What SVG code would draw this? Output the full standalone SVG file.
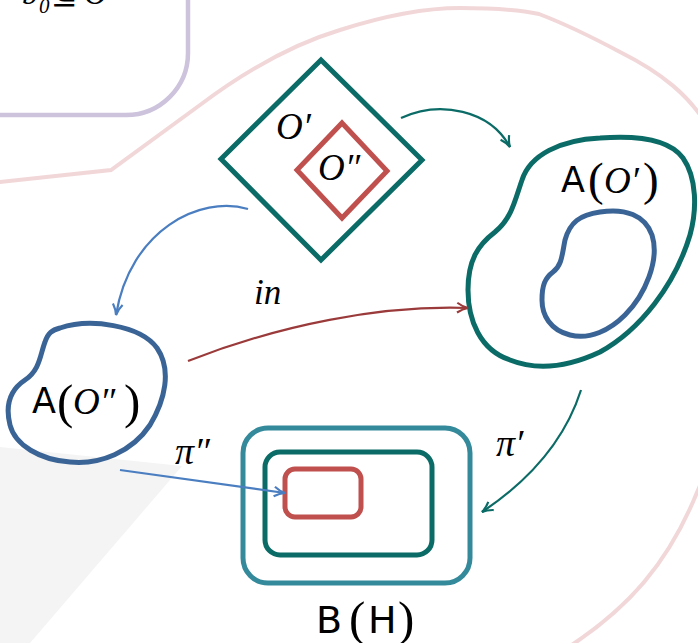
<svg xmlns="http://www.w3.org/2000/svg" width="698" height="643" viewBox="0 0 698 643">
<style>
.sans{font-family:"DejaVu Sans","Liberation Sans",sans-serif;fill:#000}
.it{font-family:"Liberation Serif","DejaVu Serif",serif;font-style:italic;fill:#000}
.par{font-family:"Liberation Serif","DejaVu Serif",serif;fill:#000}
.conn{fill:none;stroke-width:2.2}
</style>
<defs>
<marker id="hT" viewBox="0 0 12 12" refX="11" refY="6" markerWidth="13" markerHeight="13" markerUnits="userSpaceOnUse" orient="auto"><path d="M1,1.5 Q6,5 11,6 Q6,7 1,10.5" fill="none" stroke="#0B6B66" stroke-width="2"/></marker>
<marker id="hB" viewBox="0 0 12 12" refX="11" refY="6" markerWidth="13" markerHeight="13" markerUnits="userSpaceOnUse" orient="auto"><path d="M1,1.5 Q6,5 11,6 Q6,7 1,10.5" fill="none" stroke="#4A7EC0" stroke-width="2"/></marker>
<marker id="hR" viewBox="0 0 12 12" refX="11" refY="6" markerWidth="13" markerHeight="13" markerUnits="userSpaceOnUse" orient="auto"><path d="M1,1.5 Q6,5 11,6 Q6,7 1,10.5" fill="none" stroke="#9B3A3A" stroke-width="2"/></marker>
</defs>
<rect width="698" height="643" fill="#fff"/>
<g id="background">
<polygon points="0,447 182,466 30,643 0,643" fill="#F4F4F4"/>
<path d="M -10,183 L 111,170 L 200,105 C 240,75 290,45 340,30 C 390,14 430,8 460,8 C 500,8 525,11 539,14 C 560,22 590,36 620,52 C 660,72 690,95 710,130 C 740,200 740,400 698,490 C 670,560 630,610 556,655 L -20,700 Z" fill="none" stroke="#F2D7D9" stroke-width="4"/>
<rect x="-100" y="-100" width="288" height="215" rx="62" fill="none" stroke="#CDC3DD" stroke-width="4.5"/>
<text class="it" x="22" y="4" font-size="32">b</text>
<text class="it" x="39" y="13" font-size="21">0</text>
<text class="par" x="51" y="4" font-size="32">⊆</text>
<text class="it" x="84" y="4" font-size="32">O</text>
</g>
<g id="node-O">
<polygon points="321,60 422,160 321,260 221,159" fill="none" stroke="#0B6B66" stroke-width="5"/>
<polygon points="342,123 387,171 342,218 297,170" fill="none" stroke="#C0504D" stroke-width="5"/>
<text class="it" x="276" y="139" font-size="37">O′</text>
<text class="it" x="318" y="180" font-size="37">O″</text>
</g>
<g id="node-AO1">
<path d="M 600,138 C 640,135 670,140 683,158 C 697,178 697,210 690,235 C 675,285 640,330 600,352 C 570,366 540,372 510,360 C 480,350 468,320 468,290 C 468,260 478,245 495,232 C 512,218 515,200 522,180 C 530,155 560,140 600,138 Z" fill="none" stroke="#0B6B66" stroke-width="5"/>
<path d="M 600,212 C 625,208 645,215 652,235 C 660,260 645,295 625,315 C 610,330 590,340 570,335 C 550,330 542,315 542,300 C 542,285 545,278 553,272 C 562,265 562,255 565,240 C 570,222 580,215 600,212 Z" fill="none" stroke="#3A6496" stroke-width="5"/>
<text class="sans" x="561" y="192" font-size="35">A</text>
<text class="par" x="588" y="195" font-size="47">(</text>
<text class="it" x="604" y="193" font-size="37">O′</text>
<text class="par" x="643" y="195" font-size="47">)</text>
</g>
<g id="node-AO2">
<path d="M 60,328 C 90,318 140,325 157,348 C 172,370 165,400 150,425 C 132,452 100,465 70,462 C 40,460 15,445 10,425 C 5,405 10,390 25,380 C 40,370 40,355 45,342 C 48,333 52,330 60,328 Z" fill="none" stroke="#3A6496" stroke-width="5"/>
<text class="sans" x="32" y="413" font-size="35">A</text>
<text class="par" x="57" y="418" font-size="49">(</text>
<text class="it" x="73" y="414" font-size="37">O″</text>
<text class="par" x="124" y="418" font-size="49">)</text>
</g>
<g id="node-BH">
<rect x="243" y="428" width="227" height="155" rx="25" fill="none" stroke="#348A9B" stroke-width="5"/>
<rect x="265" y="452" width="167" height="103" rx="15" fill="none" stroke="#0B6B66" stroke-width="5"/>
<rect x="285" y="469" width="76" height="48" rx="10" fill="none" stroke="#C0504D" stroke-width="5"/>
<text class="sans" x="316" y="633" font-size="38">B</text>
<text class="par" x="349" y="635" font-size="49">(</text>
<text class="sans" x="368" y="633" font-size="38">H</text>
<text class="par" x="398" y="635" font-size="49">)</text>
</g>
<g id="connectors">
<path class="conn" d="M 401,118 C 440,100 490,110 510,147" stroke="#0B6B66" marker-end="url(#hT)"/>
<path class="conn" d="M 248,209 C 200,195 130,230 116,315" stroke="#4A7EC0" marker-end="url(#hB)"/>
<path class="conn" d="M 188,361 C 280,325 380,305 468,308" stroke="#9B3A3A" marker-end="url(#hR)"/>
<path class="conn" d="M 581,390 C 565,440 530,480 482,512" stroke="#0B6B66" marker-end="url(#hT)"/>
<path class="conn" d="M 120,470 L 285,493" stroke="#4A7EC0" marker-end="url(#hB)"/>
<text class="it" x="254" y="304" font-size="35">in</text>
<text class="it" x="496" y="456" font-size="38">π′</text>
<text class="it" x="175" y="464" font-size="38">π″</text>
</g>
</svg>
